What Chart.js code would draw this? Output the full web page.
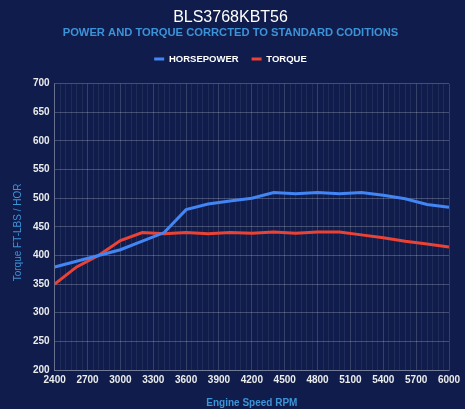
<!DOCTYPE html>
<html>
<head>
<meta charset="utf-8">
<title>BLS3768KBT56</title>
<script src="https://cdn.jsdelivr.net/npm/chart.js@4.4.1/dist/chart.umd.min.js"></script>
<style>
  html, body { margin: 0; padding: 0; background: #101d4c; }
  #wrap { width: 465px; height: 409px; }
</style>
</head>
<body>
<div id="wrap"><canvas id="dynoChart"></canvas></div>
<script>
// values
const rpm = [2400, 2600, 2800, 3000, 3200, 3400, 3600, 3800, 4000, 4200, 4400, 4600, 4800, 5000, 5200, 5400, 5600, 5800, 6000];
const horsepower = [380, 390, 400, 410, 425, 440, 480, 490, 495, 500, 510, 508, 510, 508, 510, 505, 499, 489, 484];
const torque = [350, 380, 400, 426, 440, 438, 440, 438, 440, 439, 441, 439, 441, 441, 436, 431, 425, 420, 415];
const xTicks = [2400, 2700, 3000, 3300, 3600, 3900, 4200, 4500, 4800, 5100, 5400, 5700, 6000];
const yTicks = [200, 250, 300, 350, 400, 450, 500, 550, 600, 650, 700];

const blue = '#4285f4';
const red = '#ea4335';
const axisBlue = '#3c93d8';

const toPoints = (ys) => rpm.map((r, i) => ({ x: r, y: ys[i] }));

// extra room under the legend
const legendGap = {
  id: 'legendGap',
  beforeInit(chart) {
    const fit = chart.legend.fit;
    chart.legend.fit = function () {
      fit.bind(chart.legend)();
      this.height += 10;
    };
  }
};

const ctx = document.getElementById("dynoChart").getContext("2d");
new Chart(ctx, {
  type: 'line',
  data: {
    datasets: [{
      label: 'HORSEPOWER',
      data: toPoints(horsepower),
      borderColor: blue,
      backgroundColor: blue,
      borderWidth: 3,
      pointRadius: 0,
      tension: 0
    }, {
      label: 'TORQUE',
      data: toPoints(torque),
      borderColor: red,
      backgroundColor: red,
      borderWidth: 3,
      pointRadius: 0,
      tension: 0
    }]
  },
  options: {
    responsive: true,
    maintainAspectRatio: false,
    animation: false,
    layout: { padding: { left: 12, right: 16, top: 0, bottom: 0 } },
    plugins: {
      title: {
        display: true,
        text: 'BLS3768KBT56',
        color: '#ffffff',
        font: { family: 'Liberation Sans', size: 16, weight: 'normal', lineHeight: 1 },
        padding: { top: 10, bottom: 0 }
      },
      subtitle: {
        display: true,
        text: 'POWER AND TORQUE CORRCTED TO STANDARD CODITIONS',
        color: axisBlue,
        font: { family: 'Liberation Sans', size: 11.2, weight: 'bold', lineHeight: 1 },
        padding: { top: 1.5, bottom: 2.5 }
      },
      legend: {
        labels: {
          color: '#ffffff',
          boxWidth: 10,
          boxHeight: 3,
          padding: 13,
          font: { family: 'Liberation Sans', size: 9.5, weight: 'bold' },
          generateLabels: (chart) => Chart.defaults.plugins.legend.labels.generateLabels(chart)
            .map(item => Object.assign(item, { lineWidth: 0 }))
        }
      },
      tooltip: { enabled: false }
    },
    scales: {
      x: {
        type: 'linear',
        min: 2400,
        max: 6000,
        ticks: {
          stepSize: 50,
          autoSkip: false,
          maxRotation: 0,
          color: '#ececec',
          font: { family: 'Liberation Sans', size: 10, weight: 'bold' },
          padding: 4,
          callback: (v) => xTicks.includes(v) ? String(v) : ''
        },
        grid: {
          color: (c) => xTicks.includes(c.tick && c.tick.value) ? 'rgba(255,255,255,0.16)' : 'rgba(255,255,255,0.07)',
          drawTicks: false
        },
        border: { color: 'rgba(255,255,255,0.25)' },
        title: {
          display: true,
          text: 'Engine Speed RPM',
          color: axisBlue,
          font: { family: 'Liberation Sans', size: 10, weight: 'bold' },
          padding: { top: 7, bottom: 0 }
        }
      },
      y: {
        min: 200,
        max: 700,
        afterBuildTicks: (axis) => { axis.ticks = yTicks.map(v => ({ value: v })); },
        ticks: {
          color: '#ececec',
          font: { family: 'Liberation Sans', size: 10, weight: 'bold' },
          padding: 5
        },
        grid: {
          color: 'rgba(255,255,255,0.22)',
          drawTicks: false
        },
        border: { color: 'rgba(255,255,255,0.25)' },
        title: {
          display: true,
          // trailing spaces nudge the rotated title a little lower, as on the sheet
          text: 'Torque FT-LBS / HOR    ',
          color: axisBlue,
          font: { family: 'Liberation Sans', size: 10 },
          padding: { top: 0, bottom: 4 }
        }
      }
    }
  },
  plugins: [legendGap]
});
</script>
</body>
</html>
